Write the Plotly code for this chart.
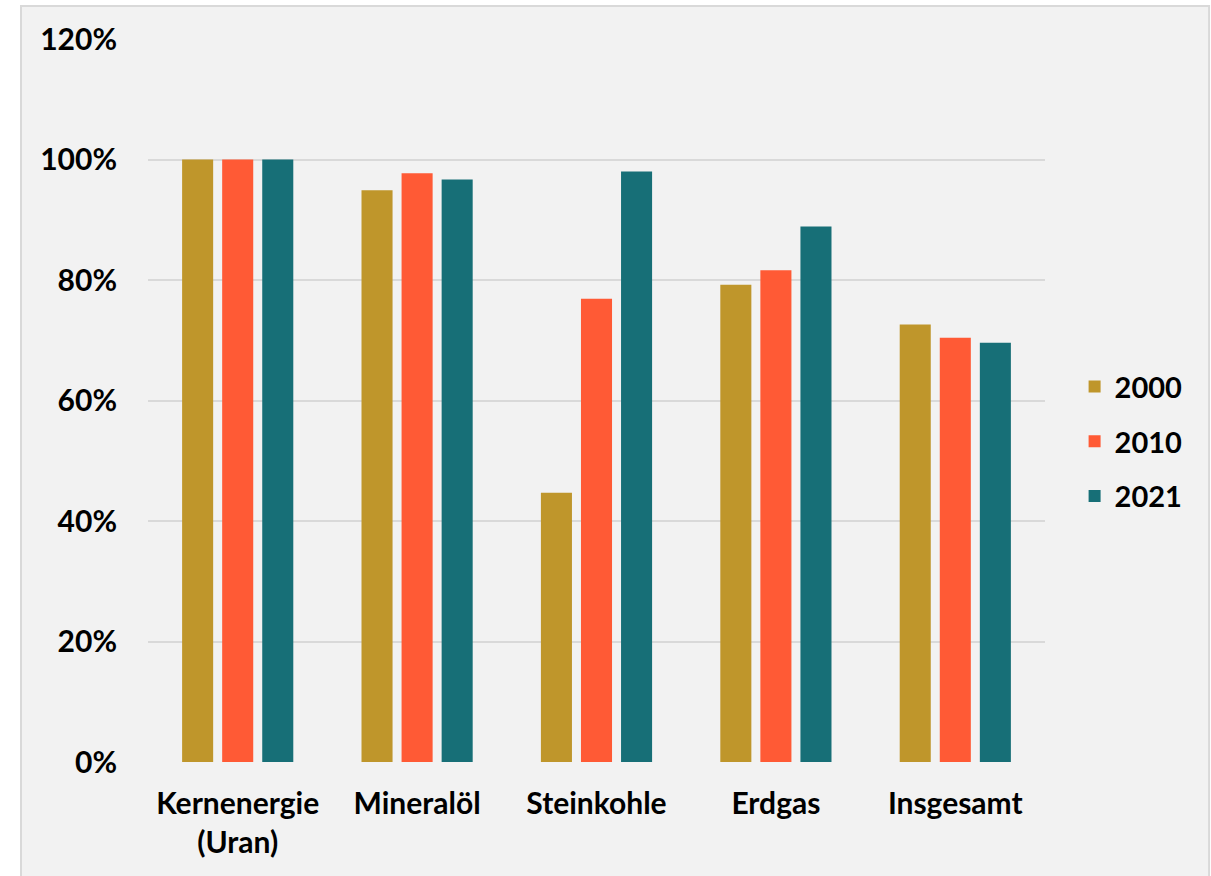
import plotly.graph_objects as go

categories = ["Kernenergie<br>(Uran)", "Mineralöl", "Steinkohle", "Erdgas", "Insgesamt"]
series_names = ["2000", "2010", "2021"]
values_2000 = [100.0, 94.9, 44.7, 79.2, 72.6]
values_2010 = [100.0, 97.7, 76.9, 81.6, 70.4]
values_2021 = [100.0, 96.7, 98.0, 88.9, 69.6]
colors = ["#BF962B", "#FF5A35", "#176F77"]
y_ticks = [0, 20, 40, 60, 80, 100, 120]
y_tick_labels = ["0%", "20%", "40%", "60%", "80%", "100%", "120%"]

font_family = "Lato, 'Source Sans Pro', sans-serif"

fig = go.Figure()
for name, vals, col in zip(series_names, [values_2000, values_2010, values_2021], colors):
    fig.add_trace(go.Bar(x=categories, y=vals, name=name, marker_color=col,
                         marker_line_width=0, legendgroup=name))

fig.update_layout(
    width=1211, height=876,
    paper_bgcolor="white", plot_bgcolor="rgba(0,0,0,0)",
    margin=dict(l=148, r=166, t=39, b=114),
    barmode="group", bargap=0.33, bargroupgap=0.225,
    font=dict(family=font_family, size=30, color="black", weight="bold"),
    legend=dict(x=1.033, y=0.443, xanchor="left", yanchor="middle",
                tracegroupgap=14, font=dict(size=29, weight="bold"),
                bgcolor="rgba(0,0,0,0)"),
    showlegend=True,
)
fig.update_yaxes(range=[0, 120], tickvals=y_ticks, ticktext=y_tick_labels,
                 showgrid=True, gridcolor="#D9D9D9", gridwidth=1.5,
                 zeroline=False, showline=False,
                 ticks="outside", ticklen=24, tickcolor="rgba(0,0,0,0)",
                 tickfont=dict(size=30, weight="bold"))
fig.update_xaxes(showgrid=False, showline=False, zeroline=False,
                 ticks="outside", ticklen=15, tickcolor="rgba(0,0,0,0)",
                 tickfont=dict(size=30, weight="bold"))
fig.add_shape(type="rect", xref="paper", yref="paper",
              x0=-0.1416, x1=1.1829, y0=-0.3, y1=1.0456,
              fillcolor="#F2F2F2", line=dict(color="#D9D9D9", width=2),
              layer="below")
fig.write_html("out.html")
